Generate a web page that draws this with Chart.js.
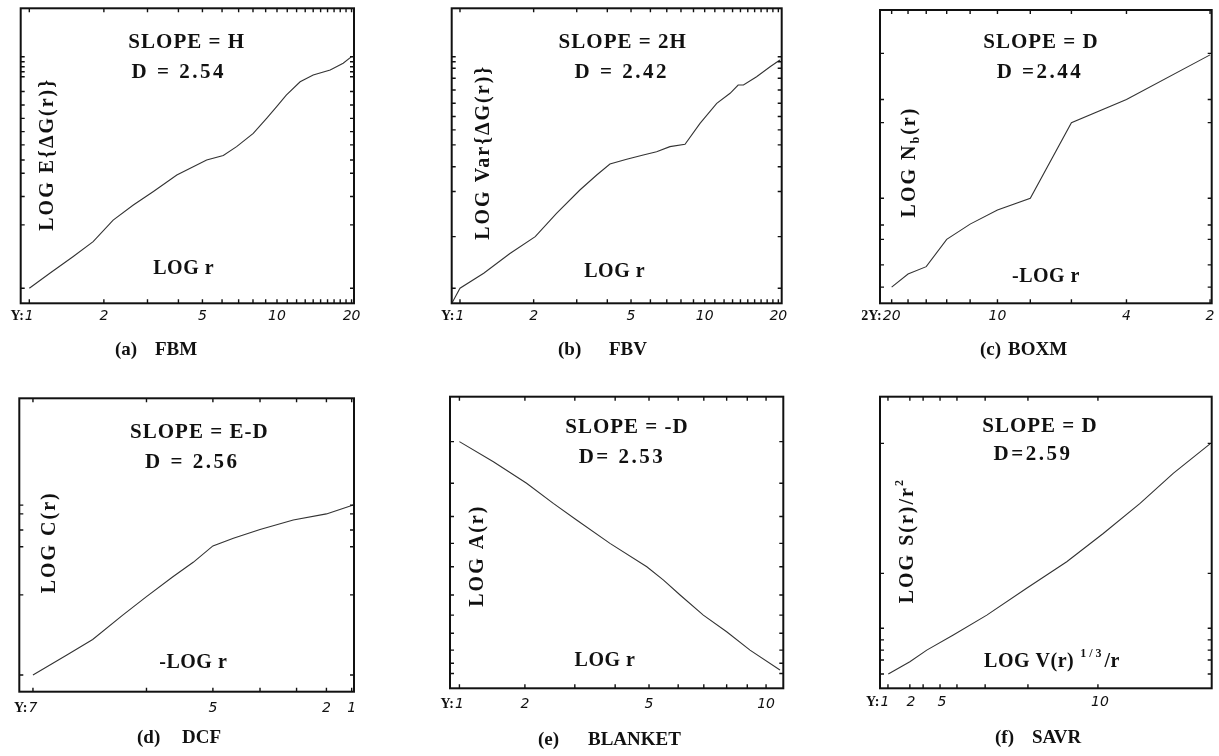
<!DOCTYPE html>
<html>
<head>
<meta charset="utf-8">
<script src="https://cdn.jsdelivr.net/npm/chart.js@4.4.1/dist/chart.umd.min.js"></script>
<style>
html,body{margin:0;padding:0;background:#fff;}
#wrap{position:relative;width:1219px;height:756px;overflow:hidden;background:#fff;}
canvas{position:absolute;}
</style>
</head>
<body>
<div id="wrap">
<canvas id="cA" width="410" height="370" style="left:0px;top:0px"></canvas>
<canvas id="cB" width="410" height="370" style="left:410px;top:0px"></canvas>
<canvas id="cC" width="399" height="370" style="left:820px;top:0px"></canvas>
<canvas id="cD" width="410" height="386" style="left:0px;top:370px"></canvas>
<canvas id="cE" width="410" height="386" style="left:410px;top:370px"></canvas>
<canvas id="cF" width="399" height="386" style="left:820px;top:370px"></canvas>
</div>
<script>
// ---------------- DATA (y in relative units 0-100 of the frame) -------------
// (a) FBM : r vs LOG E{dG(r)}
const fbmR = [1.0, 1.21, 1.5, 1.81, 2.18, 2.63, 3.17, 3.94, 4.59, 5.2, 6.07, 6.87, 8.02, 9.08, 9.97, 10.9, 12.4, 14.0, 16.4, 18.5, 20.0];
const fbmY = [5.1, 10.2, 15.8, 20.9, 28.2, 33.3, 37.9, 43.5, 46.3, 48.6, 50.1, 53.1, 57.6, 62.7, 66.7, 70.6, 75.1, 77.4, 79.1, 81.4, 83.6];
const fbmTickVals = [1, 2, 5, 10, 20];
const fbmTickLabels = ['1', '2', '5', '10', '20'];
const fbmMinorX = [1,2,3,4,5,6,7,8,9,10,11,12,13,14,15,16,17,18,19,20];
const fbmMinorY = [5.1, 26.6, 36.2, 44.1, 48.6, 53.7, 58.2, 62.7, 67.2, 71.8, 76.8, 78.5, 80.2, 81.9, 83.6];

// (b) FBV : r vs LOG Var{dG(r)}
const fbvR = [0.93, 1.0, 1.25, 1.6, 2.03, 2.48, 3.09, 3.62, 4.1, 4.8, 5.61, 6.36, 7.21, 8.31, 9.57, 11.2, 12.7, 13.7, 14.4, 16.3, 18.5, 20.3];
const fbvY = [0.3, 5.1, 10.2, 16.9, 22.6, 30.5, 38.4, 43.5, 47.2, 48.8, 50.3, 51.4, 53.1, 53.9, 61.0, 67.8, 71.2, 74.0, 74.0, 76.8, 80.2, 82.5];
const fbvTickVals = [1, 2, 5, 10, 20];
const fbvTickLabels = ['1', '2', '5', '10', '20'];
const fbvMinorX = [1,2,3,4,5,6,7,8,9,10,11,12,13,14,15,16,17,18,19,20];
const fbvMinorY = [5.1, 22.6, 37.9, 46.3, 53.7, 58.8, 63.3, 67.8, 72.3, 76.3, 79.7, 81.9, 83.6];

// (c) BOXM : r vs LOG Nb(r)
const boxR = [20, 18, 16, 14, 12, 10, 8, 6, 4, 2];
const boxY = [5.5, 10.0, 12.5, 21.8, 27.0, 31.8, 35.8, 61.6, 69.5, 84.7];
const boxTickVals = [20, 10, 4, 2];
const boxTickLabels = ['20', '10', '4', '2'];
const boxMinorX = [20, 18, 16, 14, 12, 10, 8, 6, 4, 2];
const boxMinorY = [5.5, 13.1, 21.8, 26.7, 35.8, 61.6, 69.5, 85.2];

// (d) DCF : r vs LOG C(r)
const dcfR = [7, 6.77, 6.56, 6.27, 6, 5.65, 5.34, 5, 4.6, 4, 3.1, 2, 0.93];
const dcfY = [5.7, 12.5, 17.8, 26.1, 32.4, 39.2, 44.1, 49.7, 52.3, 55.3, 58.5, 60.6, 63.6];
const dcfTickVals = [7, 5, 2, 1];
const dcfTickLabels = ['7', '5', '2', '1'];
const dcfMinorX = [7, 6, 5, 4, 3, 2, 1];
const dcfMinorY = [5.7, 33.0, 49.4, 55.1, 60.6, 63.6];

// (e) BLANKET : r vs LOG A(r)
const blkR = [1, 1.48, 2.03, 2.54, 3.04, 3.86, 4.93, 5.48, 6.07, 6.98, 8.0, 9.14, 10.8];
const blkY = [84.6, 77.7, 70.3, 63.4, 57.7, 49.7, 41.7, 37.1, 32.0, 25.1, 19.4, 13.1, 6.3];
const blkTickVals = [1, 2, 5, 10];
const blkTickLabels = ['1', '2', '5', '10'];
const blkMinorX = [1,2,3,4,5,6,7,8,9,10];
const blkMinorY = [5.1, 8.6, 13.1, 18.9, 25.1, 32.0, 41.7, 49.7, 58.9, 70.3, 84.6];

// (f) SAVR : LOG V(r)^(1/3)/r (relative units) vs LOG S(r)/r^2
const savrX = [2.5, 9.0, 14.1, 22.1, 32.2, 44.2, 56.3, 67.3, 78.4, 88.4, 99.5];
const savrY = [4.9, 9.1, 13.1, 18.3, 25.1, 34.3, 43.4, 53.1, 63.4, 73.7, 83.8];
const savrTickVals = [1.5, 9.3, 18.7, 66.3];
const savrTickLabels = ['1', '2', '5', '10'];
const savrMinorX = [2.4, 9.0, 13.0, 18.1, 23.2, 31.7, 44.6, 65.7];
const savrMinorY = [4.9, 9.7, 13.1, 16.6, 20.6, 39.4, 84.0];

// ---------------- custom warped (offset-log) scale -------------
class WarpScale extends Chart.LinearScale {
  _w(v) {
    const c = this.options.warpC || 0, s = this.options.warpS || 1;
    return Math.log10(s * v + c);
  }
  getPixelForValue(value) {
    if (value === null || value === undefined || isNaN(value)) return NaN;
    const a = this._w(this.min), b = this._w(this.max);
    return this.getPixelForDecimal((this._w(value) - a) / (b - a));
  }
  getValueForPixel(pixel) {
    const a = this._w(this.min), b = this._w(this.max);
    const fv = a + this.getDecimalForPixel(pixel) * (b - a);
    const c = this.options.warpC || 0, s = this.options.warpS || 1;
    return (Math.pow(10, fv) - c) / s;
  }
}
WarpScale.id = 'warp';
WarpScale.defaults = {};
Chart.register(WarpScale);

const SERIF = '"Liberation Serif", "DejaVu Serif", serif';

function drawRich(ctx, parts, x, y, size, spacing, align) {
  const fonts = [], widths = [];
  let total = 0;
  parts.forEach(p => {
    const sz = p.k ? Math.round(size * 0.62) : size;
    const f = 'bold ' + sz + 'px ' + SERIF;
    fonts.push(f);
    ctx.font = f;
    ctx.letterSpacing = (p.ls !== undefined ? p.ls : spacing) + 'px';
    const w = ctx.measureText(p.t).width;
    widths.push(w); total += w;
  });
  let cx = align === 'center' ? x - total / 2 : x;
  ctx.textAlign = 'left';
  ctx.textBaseline = 'middle';
  parts.forEach((p, i) => {
    ctx.font = fonts[i];
    ctx.letterSpacing = (p.ls !== undefined ? p.ls : spacing) + 'px';
    const dy = p.k === 'sub' ? size * 0.3 : (p.k === 'sup' ? -size * 0.38 : 0);
    ctx.fillText(p.t, cx, y + dy);
    cx += widths[i];
  });
  ctx.letterSpacing = '0px';
}

function decoPlugin(cfg) {
  return {
    id: 'deco',
    afterDraw(chart) {
      const ctx = chart.ctx, a = chart.chartArea, x = chart.scales.x, y = chart.scales.y;
      ctx.save();
      ctx.fillStyle = '#111';
      ctx.strokeStyle = '#111';
      // frame
      ctx.lineWidth = 2;
      ctx.strokeRect(a.left, a.top, a.right - a.left, a.bottom - a.top);
      // inward minor ticks
      ctx.lineWidth = 1.4;
      ctx.beginPath();
      cfg.xMinor.forEach(v => {
        const px = x.getPixelForValue(v);
        ctx.moveTo(px, a.bottom); ctx.lineTo(px, a.bottom - 4);
        ctx.moveTo(px, a.top); ctx.lineTo(px, a.top + 4);
      });
      cfg.yMinor.forEach(v => {
        const py = y.getPixelForValue(v);
        ctx.moveTo(a.left, py); ctx.lineTo(a.left + 4, py);
        ctx.moveTo(a.right, py); ctx.lineTo(a.right - 4, py);
      });
      ctx.stroke();
      // prefix before first tick label
      ctx.font = 'italic 14px "DejaVu Sans"';
      const firstW = ctx.measureText(cfg.labels[0]).width;
      const fx = x.getPixelForValue(cfg.ticks[0]) - firstW / 2 - 1;
      const ly = a.bottom + cfg.tickPad + 8.4;
      ctx.font = 'bold 14px ' + SERIF;
      ctx.textAlign = 'right';
      ctx.textBaseline = 'middle';
      ctx.fillText(cfg.prefix, fx, ly);
      // annotations inside the frame
      drawRich(ctx, [{t: cfg.slope}], a.left + cfg.slopePos[0], a.top + cfg.slopePos[1], 21, 1, 'center');
      drawRich(ctx, [{t: cfg.dval}], a.left + cfg.dPos[0], a.top + cfg.dPos[1], 21, 2.5, 'center');
      drawRich(ctx, cfg.xlab, a.left + cfg.xlabPos[0], a.top + cfg.xlabPos[1], 20, 0.5, 'center');
      ctx.save();
      ctx.translate(a.left + cfg.ylabPos[0], a.top + cfg.ylabPos[1]);
      ctx.rotate(-Math.PI / 2);
      drawRich(ctx, cfg.ylab, 0, 0, 20, 2, 'center');
      ctx.restore();
      // caption
      ctx.font = 'bold 19px ' + SERIF;
      ctx.textAlign = 'left';
      ctx.textBaseline = 'middle';
      ctx.fillText(cfg.caption.tag, cfg.caption.x1, cfg.caption.y);
      ctx.fillText(cfg.caption.name, cfg.caption.x2, cfg.caption.y);
      ctx.restore();
    }
  };
}

function makePanel(cfg) {
  const xScale = {
    type: cfg.xType,
    min: cfg.xMin,
    max: cfg.xMax,
    reverse: !!cfg.reverse,
    afterBuildTicks: s => { s.ticks = cfg.ticks.map(v => ({value: v})); },
    afterFit: s => { s.height = 30; s.paddingLeft = 0; s.paddingRight = 0; },
    grid: {display: false, drawTicks: false},
    border: {display: false},
    ticks: {
      autoSkip: false, maxRotation: 0, minRotation: 0, padding: cfg.tickPad, color: '#111',
      font: {family: '"DejaVu Sans"', style: 'italic', size: 14},
      callback: (v, i) => cfg.labels[i]
    }
  };
  if (cfg.warp) { xScale.warpC = cfg.warp.c; xScale.warpS = cfg.warp.s; }
  new Chart(document.getElementById(cfg.canvas), {
    type: 'line',
    data: {
      datasets: [{
        data: cfg.xs.map((xv, i) => ({x: xv, y: cfg.ys[i]})),
        borderColor: '#333', borderWidth: 1.1, pointRadius: 0, tension: 0, fill: false
      }]
    },
    options: {
      responsive: false, animation: false, devicePixelRatio: 1,
      layout: {padding: cfg.pad},
      plugins: {legend: {display: false}, tooltip: {enabled: false}, title: {display: false}},
      scales: {x: xScale, y: {type: 'linear', min: 0, max: 100, display: false}}
    },
    plugins: [decoPlugin(cfg)]
  });
}

const panels = [
  {canvas: 'cA', xs: fbmR, ys: fbmY, xType: 'warp', warp: {c: 0, s: 1}, xMin: 0.923, xMax: 20.46,
   ticks: fbmTickVals, labels: fbmTickLabels, prefix: 'Y:', xMinor: fbmMinorX, yMinor: fbmMinorY,
   pad: {left: 20.7, right: 56, top: 8.3, bottom: 36.7}, tickPad: 5,
   slope: 'SLOPE = H', slopePos: [166, 34], dval: 'D = 2.54', dPos: [158, 64],
   xlab: [{t: 'LOG r'}], xlabPos: [163, 261],
   ylab: [{t: 'LOG E{\u0394G(r)}'}], ylabPos: [27, 146],
   caption: {tag: '(a)', name: 'FBM', x1: 115, x2: 155, y: 350}},
  {canvas: 'cB', xs: fbvR, ys: fbvY, xType: 'warp', warp: {c: 0, s: 1}, xMin: 0.925, xMax: 20.64,
   ticks: fbvTickVals, labels: fbvTickLabels, prefix: 'Y:', xMinor: fbvMinorX, yMinor: fbvMinorY,
   pad: {left: 41.7, right: 38.3, top: 8.3, bottom: 36.7}, tickPad: 5,
   slope: 'SLOPE = 2H', slopePos: [171, 34], dval: 'D = 2.42', dPos: [170, 64],
   xlab: [{t: 'LOG r'}], xlabPos: [163, 264],
   ylab: [{t: 'LOG Var{\u0394G(r)}'}], ylabPos: [32, 144],
   caption: {tag: '(b)', name: 'FBV', x1: 148, x2: 199, y: 350}},
  {canvas: 'cC', xs: boxR, ys: boxY, xType: 'warp', warp: {c: 1, s: 1}, xMin: 1.97, xMax: 21.55, reverse: true,
   ticks: boxTickVals, labels: boxTickLabels, prefix: '2Y:', xMinor: boxMinorX, yMinor: boxMinorY,
   pad: {left: 60, right: 7.3, top: 10, bottom: 36.7}, tickPad: 5,
   slope: 'SLOPE = D', slopePos: [161, 33], dval: 'D =2.44', dPos: [160, 63],
   xlab: [{t: '-LOG r'}], xlabPos: [166, 267],
   ylab: [{t: 'LOG N'}, {t: 'b', k: 'sub'}, {t: '(r)'}], ylabPos: [30, 152],
   caption: {tag: '(c)', name: 'BOXM', x1: 160, x2: 188, y: 350}},
  {canvas: 'cD', xs: dcfR, ys: dcfY, xType: 'warp', warp: {c: 8, s: -1}, xMin: 0.90, xMax: 7.08, reverse: true,
   ticks: dcfTickVals, labels: dcfTickLabels, prefix: 'Y:', xMinor: dcfMinorX, yMinor: dcfMinorY,
   pad: {left: 19.3, right: 56, top: 28.3, bottom: 34.3}, tickPad: 8,
   slope: 'SLOPE = E-D', slopePos: [180, 34], dval: 'D = 2.56', dPos: [173, 64],
   xlab: [{t: '-LOG r'}], xlabPos: [174, 265],
   ylab: [{t: 'LOG C(r)'}], ylabPos: [31, 144],
   caption: {tag: '(d)', name: 'DCF', x1: 137, x2: 182, y: 368}},
  {canvas: 'cE', xs: blkR, ys: blkY, xType: 'warp', warp: {c: 1.75, s: 1}, xMin: 0.88, xMax: 11.0,
   ticks: blkTickVals, labels: blkTickLabels, prefix: 'Y:', xMinor: blkMinorX, yMinor: blkMinorY,
   pad: {left: 40, right: 36.7, top: 26.7, bottom: 37.7}, tickPad: 8,
   slope: 'SLOPE = -D', slopePos: [177, 31], dval: 'D= 2.53', dPos: [172, 61],
   xlab: [{t: 'LOG r'}], xlabPos: [155, 264],
   ylab: [{t: 'LOG A(r)'}], ylabPos: [28, 159],
   caption: {tag: '(e)', name: 'BLANKET', x1: 128, x2: 178, y: 370}},
  {canvas: 'cF', xs: savrX, ys: savrY, xType: 'linear', xMin: 0, xMax: 100,
   ticks: savrTickVals, labels: savrTickLabels, prefix: 'Y:', xMinor: savrMinorX, yMinor: savrMinorY,
   pad: {left: 60, right: 7.3, top: 26.7, bottom: 37.7}, tickPad: 6,
   slope: 'SLOPE = D', slopePos: [160, 30], dval: 'D=2.59', dPos: [153, 58],
   xlab: [{t: 'LOG V(r)'}, {t: ' 1/3', k: 'sup', ls: 3}, {t: '/r'}], xlabPos: [172, 265],
   ylab: [{t: 'LOG S(r)/r'}, {t: '2', k: 'sup'}], ylabPos: [28, 144],
   caption: {tag: '(f)', name: 'SAVR', x1: 175, x2: 212, y: 368}}
];

panels.forEach(makePanel);
</script>
</body>
</html>
